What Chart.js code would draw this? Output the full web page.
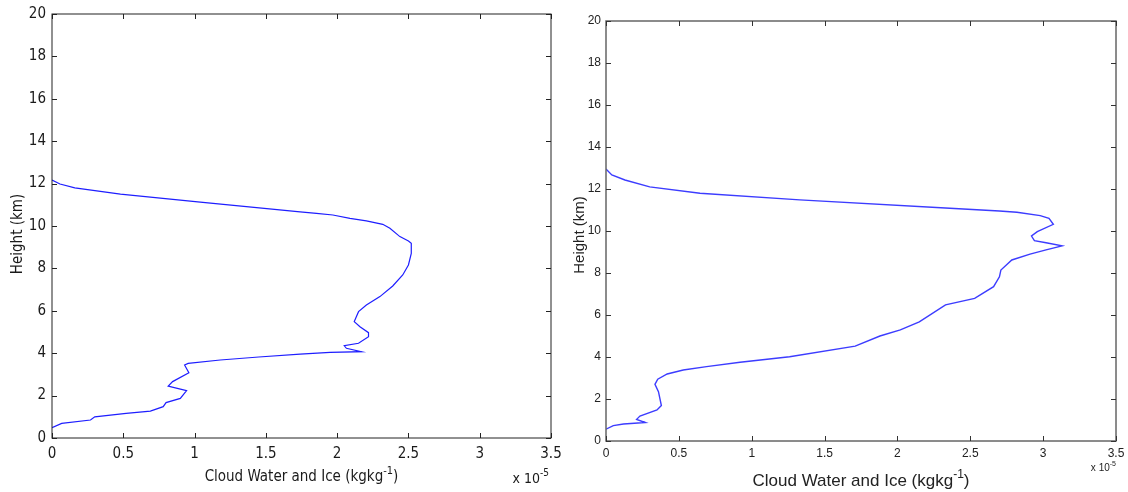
<!DOCTYPE html>
<html>
<head>
<meta charset="utf-8">
<script src="https://cdn.jsdelivr.net/npm/chart.js@4.4.1/dist/chart.umd.min.js"></script>
<style>
  html, body { margin: 0; padding: 0; background: #ffffff; }
  #wrap { position: relative; width: 1128px; height: 492px; overflow: hidden; }
  .panel { position: absolute; top: 0; }
</style>
</head>
<body>
<div id="wrap">
  <div class="panel" style="left:0px;"><canvas id="panelA" width="562" height="492"></canvas></div>
  <div class="panel" style="left:562px;"><canvas id="panelB" width="566" height="492"></canvas></div>
</div>
<script>
// Axis ticks shared by both profiles
const heightTicks = [0, 2, 4, 6, 8, 10, 12, 14, 16, 18, 20];
const waterTicks = [0, 0.5, 1, 1.5, 2, 2.5, 3, 3.5];
const waterTickLabels = ['0', '0.5', '1', '1.5', '2', '2.5', '3', '3.5'];

// Profile A: cloud water + ice (x 1e-5 kg/kg) against height (km)
const cloudA = [0, 0.068, 0.27, 0.30, 0.52, 0.69, 0.78, 0.80, 0.90, 0.944, 0.815, 0.846, 0.96, 0.93, 0.955, 1.18, 1.45, 1.74, 1.95, 2.17, 2.065, 2.05, 2.15, 2.22, 2.22, 2.16, 2.12, 2.15, 2.205, 2.30, 2.39, 2.46, 2.50, 2.52, 2.52, 2.50, 2.44, 2.37, 2.32, 2.205, 2.09, 1.97, 1.855, 1.74, 1.04, 0.48, 0.16, 0.056, 0];
const heightA = [0.49, 0.69, 0.85, 1.0, 1.16, 1.27, 1.48, 1.67, 1.87, 2.23, 2.45, 2.66, 3.08, 3.44, 3.52, 3.68, 3.82, 3.96, 4.04, 4.07, 4.23, 4.35, 4.47, 4.78, 4.97, 5.25, 5.49, 5.96, 6.27, 6.67, 7.17, 7.69, 8.16, 8.71, 9.18, 9.29, 9.50, 9.89, 10.08, 10.24, 10.36, 10.52, 10.6, 10.67, 11.13, 11.5, 11.8, 11.98, 12.17];

// Profile B
const cloudB = [0, 0.05, 0.12, 0.27, 0.21, 0.233, 0.35, 0.38, 0.36, 0.336, 0.355, 0.42, 0.53, 0.69, 0.92, 1.26, 1.71, 1.88, 2.02, 2.15, 2.33, 2.53, 2.66, 2.70, 2.71, 2.785, 2.91, 3.02, 3.13, 3.02, 2.94, 2.92, 2.96, 3.07, 3.04, 2.98, 2.82, 2.70, 2.36, 1.33, 0.645, 0.30, 0.13, 0.04, 0];
const heightB = [0.56, 0.73, 0.81, 0.88, 1.03, 1.19, 1.48, 1.69, 2.35, 2.7, 2.94, 3.19, 3.38, 3.54, 3.75, 4.01, 4.52, 5.0, 5.29, 5.67, 6.48, 6.79, 7.35, 7.82, 8.14, 8.62, 8.9, 9.1, 9.29, 9.44, 9.54, 9.76, 9.97, 10.32, 10.6, 10.73, 10.89, 10.95, 11.08, 11.48, 11.8, 12.1, 12.43, 12.67, 12.95];

const xTitle = 'Cloud Water and Ice (kgkg';
const xTitleSup = '-1';
const yTitle = 'Height (km)';
const exponentBase = 'x 10';
const exponentSup = '-5';

// Draws the boxed frame, inward ticks, axis titles and the exponent note
const framePlugin = {
  id: 'frame',
  afterDraw(chart, args, o) {
    const { ctx, chartArea: a, scales } = chart;
    ctx.save();
    ctx.strokeStyle = o.boxColor;
    ctx.lineWidth = o.boxWidth;
    ctx.strokeRect(a.left, a.top, a.right - a.left, a.bottom - a.top);
    ctx.strokeStyle = o.tickColor;
    ctx.lineWidth = 1;
    ctx.beginPath();
    waterTicks.forEach(v => {
      const px = Math.round(scales.x.getPixelForValue(v)) + 0.5;
      ctx.moveTo(px, a.bottom); ctx.lineTo(px, a.bottom - o.tickLen);
      ctx.moveTo(px, a.top); ctx.lineTo(px, a.top + o.tickLen);
    });
    heightTicks.forEach(v => {
      const py = Math.round(scales.y.getPixelForValue(v)) + 0.5;
      ctx.moveTo(a.left, py); ctx.lineTo(a.left + o.tickLen, py);
      ctx.moveTo(a.right, py); ctx.lineTo(a.right - o.tickLen, py);
    });
    ctx.stroke();

    ctx.fillStyle = o.textColor;
    ctx.textBaseline = 'alphabetic';
    // x title with superscript
    const tf = o.titleSize + 'px ' + o.family;
    const sf = Math.round(o.titleSize * 0.7) + 'px ' + o.family;
    ctx.font = tf;
    const w1 = ctx.measureText(xTitle).width;
    const w3 = ctx.measureText(')').width;
    ctx.font = sf;
    const w2 = ctx.measureText(xTitleSup).width;
    const total = w1 + w2 + w3;
    let x0 = (a.left + a.right) / 2 - total / 2;
    const ty = o.xTitleY;
    ctx.textAlign = 'left';
    ctx.font = tf; ctx.fillText(xTitle, x0, ty);
    ctx.font = sf; ctx.fillText(xTitleSup, x0 + w1, ty - o.titleSize * 0.45);
    ctx.font = tf; ctx.fillText(')', x0 + w1 + w2, ty);

    // y title, rotated
    ctx.save();
    ctx.translate(o.yTitleX, o.yTitleCY);
    ctx.rotate(-Math.PI / 2);
    ctx.textAlign = 'center';
    ctx.font = o.yTitleSize + 'px ' + o.family;
    ctx.fillText(yTitle, 0, 0);
    ctx.restore();

    // exponent note under the right end of the x axis
    const ef = o.expSize + 'px ' + o.family;
    const esf = Math.round(o.expSize * 0.7) + 'px ' + o.family;
    ctx.font = esf;
    const ew2 = ctx.measureText(exponentSup).width;
    ctx.font = ef;
    const ew1 = ctx.measureText(exponentBase).width;
    const ex = a.right - ew1 - ew2 + o.expShift;
    ctx.textAlign = 'left';
    ctx.fillText(exponentBase, ex, o.expY);
    ctx.font = esf;
    ctx.fillText(exponentSup, ex + ew1, o.expY - o.expSize * 0.5);
    ctx.restore();
  }
};

function makePanel(canvas, xs, ys, g) {
  const W = canvas.width, H = canvas.height;
  const points = xs.map((v, i) => ({ x: v, y: ys[i] }));
  return new Chart(canvas, {
    type: 'scatter',
    data: {
      datasets: [{
        data: points,
        showLine: true,
        borderColor: g.lineColor,
        borderWidth: g.lineWidth,
        pointRadius: 0,
        tension: 0,
        fill: false
      }]
    },
    options: {
      responsive: false,
      animation: false,
      devicePixelRatio: 1,
      layout: { padding: { left: 0, top: g.top, right: W - g.right, bottom: 0 } },
      plugins: {
        legend: { display: false },
        tooltip: { enabled: false },
        frame: g.frame
      },
      scales: {
        x: {
          type: 'linear', min: 0, max: 3.5,
          grid: { display: false, drawTicks: false },
          border: { display: false },
          afterBuildTicks: s => { s.ticks = waterTicks.map(v => ({ value: v })); },
          ticks: {
            callback: (v) => waterTickLabels[waterTicks.indexOf(v)],
            font: { family: g.family, size: g.tickSize },
            color: g.frame.textColor,
            padding: g.xTickPad,
            maxRotation: 0, autoSkip: false
          },
          afterFit: s => { s.height = H - g.bottom; s.paddingLeft = 0; s.paddingRight = 0; }
        },
        y: {
          type: 'linear', min: 0, max: 20,
          grid: { display: false, drawTicks: false },
          border: { display: false },
          afterBuildTicks: s => { s.ticks = heightTicks.map(v => ({ value: v })); },
          ticks: {
            font: { family: g.family, size: g.tickSize },
            color: g.frame.textColor,
            padding: g.yTickPad,
            autoSkip: false
          },
          afterFit: s => { s.width = g.left; s.paddingTop = 0; s.paddingBottom = 0; }
        }
      }
    },
    plugins: [framePlugin]
  });
}

const narrow = "'Liberation Sans Narrow', 'DejaVu Sans Condensed', 'Liberation Sans', sans-serif";
const plain = "'Liberation Sans', Arial, sans-serif";

makePanel(document.getElementById('panelA'), cloudA, heightA, {
  left: 52, top: 14, right: 551, bottom: 438,
  family: narrow, tickSize: 15, xTickPad: 7, yTickPad: 6,
  lineColor: 'rgb(30,30,255)', lineWidth: 1.2,
  frame: {
    boxColor: '#222', boxWidth: 1, tickColor: '#222', tickLen: 5, textColor: '#1a1a1a',
    family: narrow, titleSize: 15, xTitleY: 481, yTitleX: 22, yTitleCY: 234, yTitleSize: 15,
    expSize: 14, expY: 483, expShift: -2
  }
});

makePanel(document.getElementById('panelB'), cloudB, heightB, {
  left: 44, top: 21, right: 554, bottom: 441,
  family: plain, tickSize: 12, xTickPad: 5, yTickPad: 5,
  lineColor: 'rgb(60,60,255)', lineWidth: 1.4,
  frame: {
    boxColor: '#666', boxWidth: 1.5, tickColor: '#333', tickLen: 5, textColor: '#222',
    family: plain, titleSize: 17, xTitleY: 486, yTitleX: 22, yTitleCY: 235, yTitleSize: 15,
    expSize: 10, expY: 471, expShift: 0
  }
});
</script>
</body>
</html>
